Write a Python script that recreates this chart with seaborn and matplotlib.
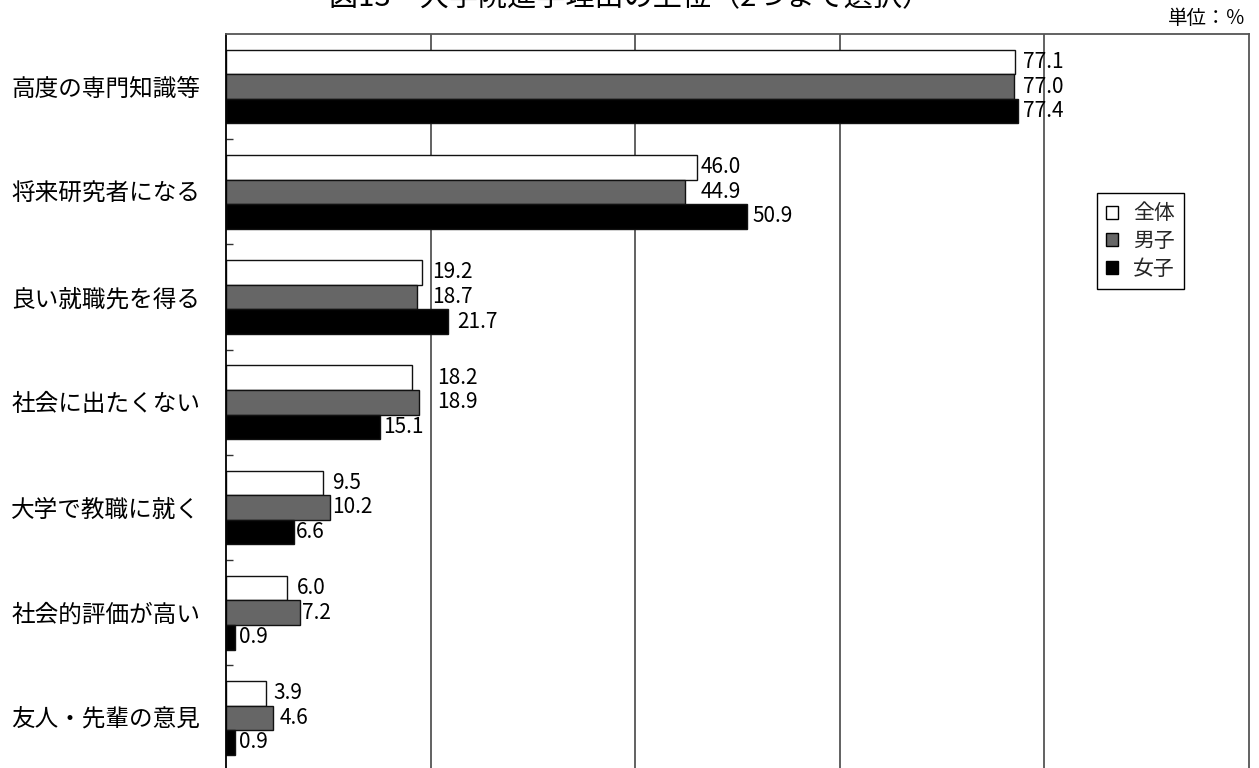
import matplotlib
matplotlib.use("Agg")
import matplotlib.pyplot as plt
import seaborn as sns
import pandas as pd

# 大学院進学理由（2つまで選択）単位：%
reasons = ["高度の専門知識等", "将来研究者になる", "良い就職先を得る", "社会に出たくない",
           "大学で教職に就く", "社会的評価が高い", "友人・先輩の意見"]
groups = ["全体", "男子", "女子"]
total = [77.1, 46.0, 19.2, 18.2, 9.5, 6.0, 3.9]
male = [77.0, 44.9, 18.7, 18.9, 10.2, 7.2, 4.6]
female = [77.4, 50.9, 21.7, 15.1, 6.6, 0.9, 0.9]

# horizontal gap (pixels) between each bar end and its value label
label_gap = {
    "全体": [8, 4, 10, 25, 9, 9, 7],
    "男子": [9, 15, 15, 18, 2, 2, 7],
    "女子": [5, 6, 9, 3, 2, 4, 4],
}

df = pd.DataFrame({
    "理由": reasons * 3,
    "区分": [g for g in groups for _ in reasons],
    "割合": total + male + female,
})

sns.set_theme(style="white")
plt.rcParams["font.family"] = ["Noto Sans CJK JP", "DejaVu Sans"]

fig = plt.figure(figsize=(12.59, 7.68), dpi=100)
ax = fig.add_axes([226 / 1259, -2.5 / 768, 1023 / 1259, 736.5 / 768])

palette = {"全体": "white", "男子": "#666666", "女子": "black"}
sns.barplot(data=df, y="理由", x="割合", hue="区分", order=reasons, hue_order=groups,
            palette=palette, orient="h", width=0.70, edgecolor="#111111",
            linewidth=1.0, saturation=1, ax=ax)

ax.set_xlim(0, 100)
ax.set_ylim(6.5, -0.5)
ax.set_xlabel("")
ax.set_ylabel("")

# vertical grid lines at 20% steps
ax.set_xticks([20, 40, 60, 80])
ax.tick_params(axis="x", length=0, labelbottom=False)
ax.grid(axis="x", color="#555555", linewidth=1.3)
ax.set_axisbelow(True)

# category labels and small separators between groups
ax.tick_params(axis="y", which="major", length=0, pad=18.5, labelsize=17, labelcolor="black")
ax.set_yticks([i + 0.5 for i in range(len(reasons) - 1)], minor=True)
ax.tick_params(axis="y", which="minor", left=True, direction="in", length=5,
               width=1.0, color="#333333")

for side in ["top", "right", "bottom"]:
    ax.spines[side].set_color("#555555")
    ax.spines[side].set_linewidth(1.3)
ax.spines["left"].set_color("black")
ax.spines["left"].set_linewidth(1.3)

# value labels
for container, g in zip(ax.containers, groups):
    for bar, gap in zip(container, label_gap[g]):
        w = bar.get_width()
        yc = bar.get_y() + bar.get_height() / 2
        ax.annotate(f"{w:.1f}", xy=(w, yc), xytext=(gap, 0), textcoords="offset pixels",
                    ha="left", va="center", fontsize=15, color="black")

# legend
handles, labels = ax.get_legend_handles_labels()
if ax.get_legend() is not None:
    ax.get_legend().remove()
leg = ax.legend(handles, labels, loc="upper left", bbox_to_anchor=(0.851, 0.784),
                frameon=True, fancybox=False, edgecolor="black", framealpha=1,
                fontsize=15, handlelength=0.6, handleheight=0.6, handletextpad=0.7,
                borderpad=0.45, labelspacing=0.27, borderaxespad=0)
leg.get_frame().set_linewidth(1.0)
for h in leg.legend_handles:
    h.set_edgecolor("black")
    h.set_linewidth(1.0)

fig.text(630 / 1259, (768 - 6) / 768, "図13　大学院進学理由の上位（2つまで選択）",
         ha="center", va="baseline", fontsize=21, color="black")
fig.text(1246 / 1259, (768 - 29) / 768, "単位：％", ha="right", va="bottom",
         fontsize=14, color="black")

fig.savefig("out.png", dpi=100, facecolor="white")
